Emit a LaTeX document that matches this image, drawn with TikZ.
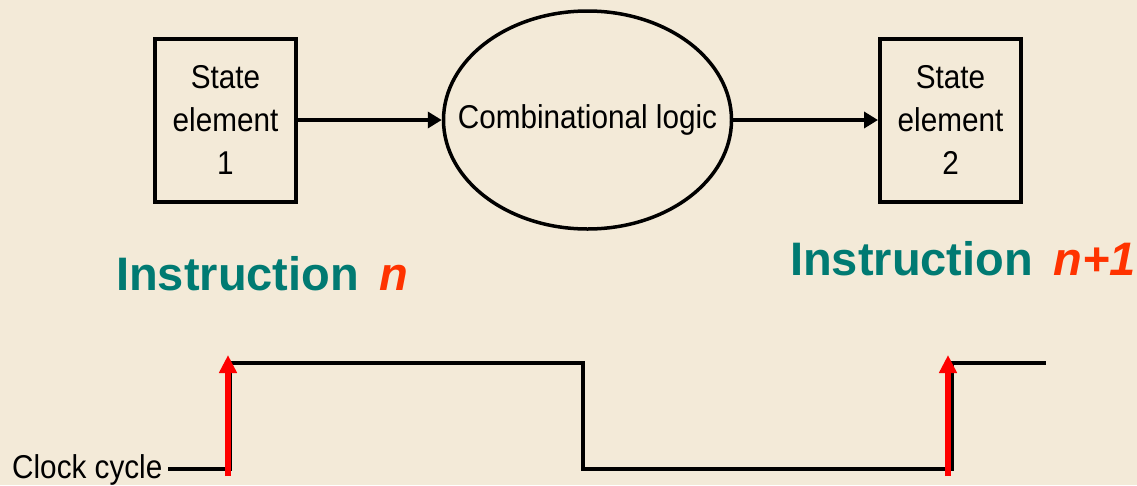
\documentclass[tikz,border=0pt]{standalone}
\usepackage{fontspec}
\setmainfont{Liberation Sans}
\newfontfamily\narrowfont{Liberation Sans}[FakeStretch=0.9]
\usetikzlibrary{arrows.meta, shapes.geometric, positioning}
\definecolor{slidebg}{HTML}{F3EAD8}
\definecolor{instrteal}{HTML}{007A72}
\definecolor{instrred}{HTML}{FF3300}
\definecolor{edgered}{HTML}{FF0000}

\tikzset{
  statebox/.style={draw, line width=4pt, minimum width=141pt, minimum height=163pt,
                   inner sep=0pt, align=center, font=\narrowfont\fontsize{33}{43}\selectfont},
  logicnode/.style={draw, ellipse, line width=3.5pt, minimum width=288pt, minimum height=218pt,
                    inner sep=0pt, font=\narrowfont\fontsize{33}{43}\selectfont},
  flow/.style={-{Triangle[length=14pt, width=16pt]}, line width=3.5pt},
  wave/.style={line width=4.5pt},
  edgearrow/.style={edgered, line width=6pt, -{Triangle[length=18pt, width=17pt]}},
  instr/.style={anchor=base west, inner sep=0pt, text=instrteal,
                font=\bfseries\fontsize{47}{50}\selectfont},
}

\begin{document}
\begin{tikzpicture}[x=1pt, y=-1pt]
  \useasboundingbox (0,0) rectangle (1137,485);
  \fill[slidebg] (0,0) rectangle (1137,485);

  %% State elements and logic
  \node[statebox] (state1) at (225.5,120) {State\\element\\1};
  \node[logicnode] (logic) at (587.5,120) {\makebox[150pt]{Combinational logic}};
  \node[statebox] (state2) at (950.5,120) {State\\element\\2};

  \draw[flow] (state1.east) -- (logic.west);
  \draw[flow] (logic.east) -- (state2.west);

  %% Instruction labels
  \node[instr] (instrn) at (116,290)
    {Instruction\hspace{0.16em} \textcolor{instrred}{\textit{n}}};
  \node[instr] (instrnext) at (790,275)
    {Instruction\hspace{0.16em} \textcolor{instrred}{\textit{n+1}}};

  %% Clock waveform
  \node[anchor=base west, inner sep=0pt, font=\narrowfont\fontsize{33}{40}\selectfont]
    (clk) at (12,478) {Clock cycle};
  \coordinate (w0) at (168,469);
  \draw[wave] (w0) -- (230,469) -- (230,363) -- (583,363) -- (583,469)
    -- (952,469) -- (952,363) -- (1046,363);

  %% Rising edges
  \foreach \x in {228,948} {
    \draw[edgearrow] (\x,476) -- (\x,355);
  }
\end{tikzpicture}
\end{document}
